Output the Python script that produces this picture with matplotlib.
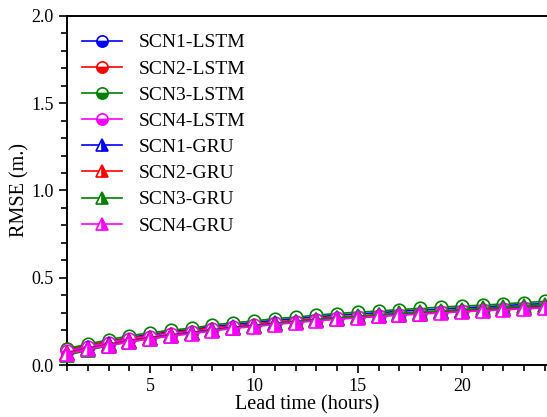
import matplotlib
matplotlib.use("Agg")
import matplotlib.pyplot as plt
from matplotlib.ticker import MultipleLocator

plt.rcParams['font.family'] = ['Liberation Serif', 'DejaVu Serif']

lead = list(range(1, 25))
labels = ["SCN1-LSTM", "SCN2-LSTM", "SCN3-LSTM", "SCN4-LSTM",
          "SCN1-GRU", "SCN2-GRU", "SCN3-GRU", "SCN4-GRU"]
colors = ["#0000ff", "#ff0000", "#008000", "#ff00ff",
          "#0000ff", "#ff0000", "#008000", "#ff00ff"]

scn1_lstm = [0.085, 0.110, 0.135, 0.158, 0.175, 0.191, 0.203, 0.220, 0.233, 0.243, 0.257, 0.265, 0.276,
             0.285, 0.293, 0.299, 0.308, 0.314, 0.321, 0.328, 0.333, 0.340, 0.347, 0.352]
scn2_lstm = [0.090, 0.112, 0.133, 0.154, 0.170, 0.185, 0.197, 0.213, 0.225, 0.235, 0.248, 0.256, 0.266,
             0.275, 0.282, 0.288, 0.296, 0.302, 0.309, 0.315, 0.320, 0.326, 0.332, 0.337]
scn3_lstm = [0.094, 0.120, 0.144, 0.168, 0.184, 0.200, 0.211, 0.229, 0.242, 0.252, 0.266, 0.274, 0.286,
             0.295, 0.303, 0.309, 0.318, 0.324, 0.332, 0.338, 0.343, 0.350, 0.358, 0.364]
scn4_lstm = [0.080, 0.103, 0.126, 0.148, 0.163, 0.178, 0.190, 0.205, 0.218, 0.228, 0.240, 0.249, 0.259,
             0.267, 0.275, 0.281, 0.289, 0.295, 0.302, 0.308, 0.313, 0.319, 0.325, 0.330]
scn1_gru = [0.070, 0.096, 0.118, 0.140, 0.157, 0.172, 0.186, 0.201, 0.216, 0.226, 0.238, 0.249, 0.259,
            0.268, 0.276, 0.284, 0.291, 0.298, 0.304, 0.311, 0.316, 0.322, 0.328, 0.333]
scn2_gru = [0.068, 0.094, 0.116, 0.138, 0.155, 0.170, 0.184, 0.199, 0.213, 0.223, 0.235, 0.246, 0.256,
            0.265, 0.273, 0.281, 0.288, 0.295, 0.301, 0.308, 0.313, 0.319, 0.325, 0.330]
scn3_gru = [0.055, 0.085, 0.110, 0.133, 0.151, 0.167, 0.182, 0.198, 0.213, 0.224, 0.237, 0.249, 0.260,
            0.270, 0.279, 0.288, 0.296, 0.303, 0.310, 0.318, 0.324, 0.331, 0.338, 0.344]
scn4_gru = [0.062, 0.090, 0.111, 0.132, 0.150, 0.165, 0.180, 0.195, 0.210, 0.220, 0.232, 0.243, 0.253,
            0.262, 0.270, 0.278, 0.285, 0.292, 0.298, 0.305, 0.310, 0.316, 0.322, 0.327]

series = [scn1_lstm, scn2_lstm, scn3_lstm, scn4_lstm, scn1_gru, scn2_gru, scn3_gru, scn4_gru]

fig = plt.figure(figsize=(5.47, 4.17), dpi=100)
ax = fig.add_axes([0.1225, 0.1247, 0.8775, 0.837])

for i, (vals, lab, c) in enumerate(zip(series, labels, colors)):
    if i < 4:
        ax.plot(lead, vals, color=c, lw=1.2, marker='o', markersize=9,
                fillstyle='bottom', markerfacecolor=c, markerfacecoloralt='white',
                markeredgecolor=c, markeredgewidth=1.2, label=lab, clip_on=False, zorder=3 + i)
    else:
        ax.plot(lead, vals, color=c, lw=1.2, marker='^', markersize=10,
                fillstyle='right', markerfacecolor=c, markerfacecoloralt='white',
                markeredgecolor=c, markeredgewidth=1.2, label=lab, clip_on=False, zorder=3 + i)

ax.set_xlim(1, 24.1)
ax.set_ylim(0, 2.0)
ax.xaxis.set_major_locator(MultipleLocator(5))
ax.xaxis.set_minor_locator(MultipleLocator(1))
ax.yaxis.set_major_locator(MultipleLocator(0.5))
ax.yaxis.set_minor_locator(MultipleLocator(0.1))
ax.yaxis.set_major_formatter(matplotlib.ticker.FormatStrFormatter('%.1f'))
ax.tick_params(which='both', direction='out', width=1.2, labelsize=13)
ax.tick_params(which='major', length=6)
ax.tick_params(which='minor', length=4)
ax.tick_params(axis='x', which='both', top=False)
ax.spines['right'].set_visible(False)
for s in ['left', 'bottom', 'top']:
    ax.spines[s].set_linewidth(1.4)

ax.set_xlabel("Lead time (hours)", fontsize=14.5, labelpad=0)
ax.set_ylabel("RMSE (m.)", fontsize=14.5, labelpad=1)

ax.legend(loc='upper left', frameon=False, fontsize=14, handlelength=2.06,
          labelspacing=0.44, handletextpad=0.88, borderaxespad=0.52,
          bbox_to_anchor=(-0.0065, 1.0), markerscale=0.9)

fig.savefig("out.png", dpi=100)
